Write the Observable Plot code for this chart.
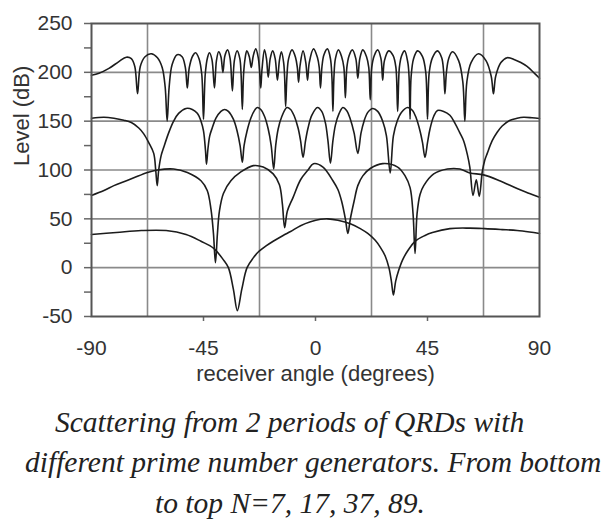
<!DOCTYPE html>
<html>
<head>
<meta charset="utf-8">
<script src="https://cdn.jsdelivr.net/npm/d3@7"></script>
<script src="https://cdn.jsdelivr.net/npm/@observablehq/plot@0.6"></script>
<style>
  html, body { margin: 0; padding: 0; background: #fff; }
  #wrap { position: relative; width: 611px; height: 520px; background: #fff; overflow: hidden; }
  .cap { position: absolute; font-family: "Liberation Serif", "Times New Roman", serif; font-style: italic;
         font-size: 29.5px; line-height: 29.5px; color: #222; white-space: nowrap; }
</style>
</head>
<body>
<div id="wrap"></div>
<script>
// ---- data (angle in degrees, level in dB) ----
const xTicks = [-90, -45, 0, 45, 90];
const xMinorTicks = [-45, 0, 45];
const xGrid = [-67.5, -22.5, 22.5, 67.5];
const yTicks = [-50, 0, 50, 100, 150, 200, 250];
const yMinorTicks = [-50, -25, 0, 25, 50, 75, 100, 125, 150, 175, 200, 225, 250];
const yGrid = [0, 50, 100, 150, 200];

const xLabel = "receiver angle (degrees)";
const yLabel = "Level (dB)";
const captionLines = [
  "Scattering from 2 periods of QRDs with",
  "different prime number generators. From bottom",
  "to top N=7, 17, 37, 89."
];

// N = 7 (bottom)
const n7 = [[-90,34],[-80,36],[-70,38],[-60,38],[-52,34],[-46,27],[-41,20],[-37,8],[-35,0],[-33,-22],
  [-31.4,-44],[-29.6,-22],[-27.5,0],[-25,10],[-23,16],[-20,22],[-17,27],[-13,33],[-10,37],[-6,43],
  [-2,47],[2,49.5],[5,50],[9,48.5],[14,45],[18,40],[21,35],[24,28],[26,21],[28,12],[29.5,0],[30.5,-14],
  [31.3,-28],[32.2,-14],[33.4,-3],[35,8],[37,17],[40,27],[44,33],[47,36],[54,40],[62,40.5],[68,40],
  [75,39],[81,38],[86,36.5],[90,35]];

// N = 17
const n17 = [[-90,74],[-85,79],[-81,84],[-77,88],[-73,92],[-67.5,97.5],[-63.5,100],[-57,101],[-51.5,97.5],
  [-46,89],[-43.5,79],[-42,60],[-41,35],[-40.2,5],[-39.4,35],[-38.6,58],[-37,76],[-34,89],[-30,98],
  [-25,104.5],[-21,103],[-17,96],[-14.5,85],[-13.3,65],[-12.4,41],[-11.3,58],[-9,72],[-6,90],[-3,100],
  [-0.8,106.5],[3,103],[7,89],[9,80],[10.5,68],[12,50],[13,35],[14,50],[15.5,68],[17,84],[19,94],
  [22,101.5],[27,106.5],[33,103],[36,94],[38,82],[39.2,55],[40,14.5],[40.8,55],[42,75],[43.5,84],
  [47.5,96],[53,101],[58,101],[62,97],[67.5,95],[74,89],[81,81],[86,76],[90,72]];

// N = 37
const n37 = [[-90,153],[-85,154],[-81,153],[-77,151],[-74,148.6],[-71,143],[-69,137],[-67,128],[-65,117],
  [-64.2,100],[-63.6,84],[-63,100],[-62,115],[-61,123],[-59,138],[-57,150],[-55,158],[-52,163],
  [-49.5,162],[-47.5,158],[-46,150],[-45,140],[-44.2,120],[-43.8,106],[-43.2,122],[-42.5,135],
  [-41.5,143],[-40,153],[-38,160],[-36.5,162],[-35,160],[-33,152],[-31.5,140],[-30.3,125],[-29.4,108],
  [-28.7,125],[-27.5,140],[-26,153],[-24.5,161],[-23.4,164],[-22,162],[-20.5,155],[-19,142],[-17.8,125],
  [-16.8,101],[-16,125],[-15,142],[-13.5,155],[-11.5,164],[-10,162],[-8.5,155],[-7,143],[-6,130],
  [-5,113],[-4,130],[-3,143],[-1.5,156],[0.8,164],[2.5,160],[4,148],[5,130],[6,107],[7,130],[8,146],
  [9.5,158],[11,164],[12.5,161],[14,152],[15.5,138],[17,117],[18.3,138],[19.5,150],[21,159],[23,163],
  [25,160],[27,150],[28.5,135],[30,97],[31.3,135],[32.8,150],[34.5,159],[37,164],[39,161],[40.5,153],
  [42,140],[43,128],[44,113],[45,128],[46,142],[47.5,155],[49,161],[51.5,160],[54,156],[56,148],
  [58,138],[59.5,130],[61,116],[62,103],[63.3,74],[64.6,90],[65.8,73],[67,98],[68,110],[69,117],
  [71,130],[73,138.6],[75,145],[78,150.7],[81,153],[83.6,154],[87,153.5],[90,152.7]];

// N = 89 (top)
const n89 = [[-90,197],[-87,199],[-83,204],[-79,211],[-76,215.5],[-74,214],[-72.6,206],
  [-71.5,178],
  [-70.4,206],[-68.5,216],[-66,219],[-63.5,215],[-61.6,205],[-60.4,185],
  [-59.6,150],
  [-58.8,185],[-57.6,208],[-55.6,218],[-53.6,216],[-52.3,205],
  [-51.5,184],
  [-50.7,205],[-49.3,217],[-48.2,220],[-46.8,214],[-45.7,198],
  [-45,152],
  [-44.3,198],[-43.4,215],[-42.6,220],[-41.6,213],
  [-40.6,184],
  [-39.8,212],[-38.9,221],[-38,216],
  [-37.2,200],
  [-36.4,217],[-35.3,223],[-34.3,214],
  [-33.4,181],
  [-32.6,212],[-31.5,222],[-30.4,214],[-29.9,198],
  [-29.4,162],
  [-28.9,198],[-28.3,214],[-27.6,222],[-26.6,216],
  [-25.8,205],
  [-25,217],[-24,224],[-23,215],[-22.5,203],
  [-22,184],
  [-21.5,203],[-20.5,223],[-19.7,214],
  [-19,195],
  [-18.2,214],[-17.2,222],[-16.2,214],
  [-15.3,192],
  [-14.5,212],[-13.7,221],[-12.8,210],[-12.4,195],
  [-12,165],
  [-11.5,195],[-10.8,214],[-9.4,223],[-8,215],[-7.3,205],
  [-6.8,190],
  [-6.2,207],[-5,222],[-3.9,210],
  [-3.2,192],
  [-2.5,210],[-0.8,224],[0.8,215],[1.5,205],
  [2,184],
  [2.6,206],[3.4,218],[4.8,224],[6,214],[6.6,195],
  [7,160],
  [7.4,195],[8,214],[9.2,223],[10.5,216],[11.4,205],
  [12,174],
  [12.6,205],[13.5,217],[14.8,223],[16.2,214],
  [17,194],
  [17.8,214],[19,223],[20.5,216],[21.4,205],
  [22,172],
  [22.6,205],[23.6,217],[25,223],[26.3,214],
  [27,192],
  [27.7,212],[29.4,222],[31.2,217],[32.3,205],
  [33,160],
  [33.7,205],[34.6,217],[35.8,222],[37.1,210],[37.6,195],
  [38,152],
  [38.4,195],[39.4,214],[41,222],[43,216],[44.3,200],
  [45,152],
  [45.7,200],[47,215],[49,222],[50.7,215],[51.5,200],
  [52,178],
  [52.6,200],[53.5,214],[55,221],[57.5,212],[59.2,190],
  [60,150],
  [60.8,190],[62.5,210],[65.5,219],[68.5,212],[70.6,196],
  [71.5,178],
  [72.4,196],[74.5,210],[77,215],[80,213],[82.5,210],[85,206],[88,199],[90,194]];

const curves = [n7, n17, n37, n89];

// ---- chart ----
const ink = "#1c1c1c";
const plain = d => String(d); // hyphen-minus, as in the reference
const lineMarks = curves.map(c => Plot.line(c, {
  x: d => d[0], y: d => d[1], curve: "catmull-rom", stroke: ink, strokeWidth: 1.6
}));

const chart = Plot.plot({
  width: 611, height: 390,
  marginLeft: 91, marginRight: 72, marginTop: 23, marginBottom: 74,
  x: {domain: [-90, 90], label: null},
  y: {domain: [-50, 250], label: null},
  style: {fontFamily: "'Liberation Sans', Arial, sans-serif", fontSize: "21px", color: "#333", background: "#fff"},
  marks: [
    Plot.ruleX(xGrid, {stroke: "#8a8a8a", strokeWidth: 1.6}),
    Plot.ruleY(yGrid, {stroke: "#8a8a8a", strokeWidth: 1.6}),
    Plot.axisY({ticks: yMinorTicks, tickSize: 7, tickFormat: () => "", label: null, stroke: "#666", strokeWidth: 1.5}),
    Plot.axisY({ticks: yTicks, tickSize: 0, tickPadding: 19, tickFormat: plain, label: null, fontSize: 21, fill: "#333"}),
    Plot.axisX({ticks: xMinorTicks, tickSize: 5, tickFormat: () => "", label: null, stroke: "#666", strokeWidth: 1.5}),
    Plot.axisX({ticks: xTicks, tickSize: 0, tickPadding: 24, tickFormat: plain, label: null, fontSize: 21, fill: "#333"}),
    ...lineMarks,
    Plot.frame({stroke: "#555", strokeWidth: 2}),
    Plot.text([xLabel], {text: d => d, frameAnchor: "bottom", lineAnchor: "middle", dy: 57, fontSize: 22, fill: "#333"}),
    Plot.text([yLabel], {text: d => d, frameAnchor: "left", lineAnchor: "middle", dx: -70, dy: -4, rotate: -90, fontSize: 22, fill: "#333"})
  ]
});

const wrap = document.getElementById("wrap");
wrap.appendChild(chart);

// caption below the SVG
const capLayout = [{left: 55, top: 408}, {left: 25, top: 448}, {left: 155, top: 489}];
captionLines.forEach((t, i) => {
  const div = document.createElement("div");
  div.className = "cap";
  div.style.left = capLayout[i].left + "px";
  div.style.top = capLayout[i].top + "px";
  div.textContent = t;
  wrap.appendChild(div);
});
</script>
</body>
</html>
